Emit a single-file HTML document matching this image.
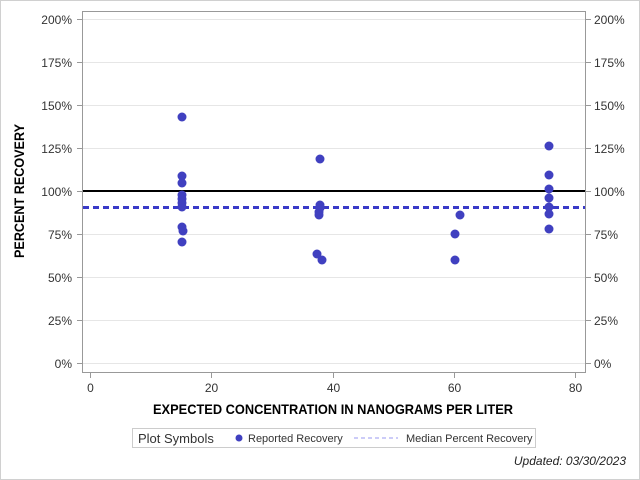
<!DOCTYPE html>
<html><head><style>
body{margin:0;background:#fff;}
svg{display:block;font-family:"Liberation Sans",sans-serif;}
</style></head><body>
<svg width="640" height="480" viewBox="0 0 640 480">
<rect x="0.5" y="0.5" width="639" height="479" fill="#fff" stroke="#d0d0d0"/>
<g stroke="#e6e6e6" stroke-width="1">
<line x1="83" x2="585" y1="19.5" y2="19.5"/><line x1="83" x2="585" y1="62.5" y2="62.5"/>
<line x1="83" x2="585" y1="105.5" y2="105.5"/><line x1="83" x2="585" y1="148.5" y2="148.5"/>
<line x1="83" x2="585" y1="234.5" y2="234.5"/><line x1="83" x2="585" y1="277.5" y2="277.5"/>
<line x1="83" x2="585" y1="320.5" y2="320.5"/><line x1="83" x2="585" y1="363.5" y2="363.5"/>
</g>
<rect x="82.5" y="11.5" width="503" height="361" fill="none" stroke="#999"/>
<g stroke="#999">
<line x1="77" x2="82" y1="19.5" y2="19.5"/><line x1="77" x2="82" y1="62.5" y2="62.5"/><line x1="77" x2="82" y1="105.5" y2="105.5"/><line x1="77" x2="82" y1="148.5" y2="148.5"/><line x1="77" x2="82" y1="191.5" y2="191.5"/><line x1="77" x2="82" y1="234.5" y2="234.5"/><line x1="77" x2="82" y1="277.5" y2="277.5"/><line x1="77" x2="82" y1="320.5" y2="320.5"/><line x1="77" x2="82" y1="363.5" y2="363.5"/>
<line x1="586" x2="591" y1="19.5" y2="19.5"/><line x1="586" x2="591" y1="62.5" y2="62.5"/><line x1="586" x2="591" y1="105.5" y2="105.5"/><line x1="586" x2="591" y1="148.5" y2="148.5"/><line x1="586" x2="591" y1="191.5" y2="191.5"/><line x1="586" x2="591" y1="234.5" y2="234.5"/><line x1="586" x2="591" y1="277.5" y2="277.5"/><line x1="586" x2="591" y1="320.5" y2="320.5"/><line x1="586" x2="591" y1="363.5" y2="363.5"/>
<line x1="90.5" x2="90.5" y1="373" y2="378"/><line x1="211.5" x2="211.5" y1="373" y2="378"/><line x1="333.5" x2="333.5" y1="373" y2="378"/><line x1="454.5" x2="454.5" y1="373" y2="378"/><line x1="575.5" x2="575.5" y1="373" y2="378"/>
</g>
<g font-size="12" fill="#333" text-anchor="end">
<text x="72" y="24">200%</text><text x="72" y="67">175%</text><text x="72" y="110">150%</text><text x="72" y="153">125%</text><text x="72" y="196">100%</text><text x="72" y="239">75%</text><text x="72" y="282">50%</text><text x="72" y="325">25%</text><text x="72" y="368">0%</text>
</g>
<g font-size="12" fill="#333" text-anchor="start">
<text x="594" y="24">200%</text><text x="594" y="67">175%</text><text x="594" y="110">150%</text><text x="594" y="153">125%</text><text x="594" y="196">100%</text><text x="594" y="239">75%</text><text x="594" y="282">50%</text><text x="594" y="325">25%</text><text x="594" y="368">0%</text>
</g>
<g font-size="12" fill="#333" text-anchor="middle">
<text x="90.5" y="392">0</text><text x="211.5" y="392">20</text><text x="333.5" y="392">40</text><text x="454.5" y="392">60</text><text x="575.5" y="392">80</text>
</g>
<text x="153" y="414" font-size="14" font-weight="bold" fill="#000" textLength="360" lengthAdjust="spacingAndGlyphs">EXPECTED CONCENTRATION IN NANOGRAMS PER LITER</text>
<text transform="translate(24,258) rotate(-90)" font-size="14" font-weight="bold" fill="#000" textLength="134" lengthAdjust="spacingAndGlyphs">PERCENT RECOVERY</text>
<line x1="83" x2="585" y1="191" y2="191" stroke="#000" stroke-width="2"/>
<line x1="83" x2="585" y1="207.5" y2="207.5" stroke="#3a3ac8" stroke-width="3" stroke-dasharray="6,4"/>
<g fill="#4040c0">
<circle cx="182" cy="117" r="4.5"/><circle cx="182" cy="176" r="4.5"/><circle cx="182" cy="183" r="4.5"/><circle cx="182" cy="195" r="4.5"/><circle cx="182" cy="199" r="4.5"/><circle cx="182" cy="203" r="4.5"/><circle cx="182" cy="207" r="4.5"/><circle cx="182" cy="227" r="4.5"/><circle cx="183" cy="231" r="4.5"/><circle cx="182" cy="242" r="4.5"/>
<circle cx="320" cy="159" r="4.5"/><circle cx="320" cy="205" r="4.5"/><circle cx="320" cy="208" r="4.5"/><circle cx="319" cy="212" r="4.5"/><circle cx="319" cy="215" r="4.5"/><circle cx="317" cy="254" r="4.5"/><circle cx="322" cy="260" r="4.5"/>
<circle cx="455" cy="260" r="4.5"/><circle cx="455" cy="234" r="4.5"/><circle cx="460" cy="215" r="4.5"/>
<circle cx="549" cy="146" r="4.5"/><circle cx="549" cy="175" r="4.5"/><circle cx="549" cy="189" r="4.5"/><circle cx="549" cy="198" r="4.5"/><circle cx="549" cy="207" r="4.5"/><circle cx="549" cy="214" r="4.5"/><circle cx="549" cy="229" r="4.5"/>
</g>
<rect x="132.5" y="428.5" width="403" height="19" fill="#fff" stroke="#ccc"/>
<text x="138" y="443" font-size="13" fill="#333">Plot Symbols</text>
<circle cx="239" cy="438" r="3.5" fill="#4040c0"/>
<text x="248" y="442" font-size="11" fill="#333">Reported Recovery</text>
<line x1="354" x2="398" y1="438" y2="438" stroke="#9a9af0" stroke-width="1" stroke-dasharray="4,3"/>
<text x="406" y="442" font-size="11" fill="#333">Median Percent Recovery</text>
<text x="626" y="465" font-size="12" font-style="italic" text-anchor="end" fill="#222">Updated: 03/30/2023</text>
</svg>
</body></html>
